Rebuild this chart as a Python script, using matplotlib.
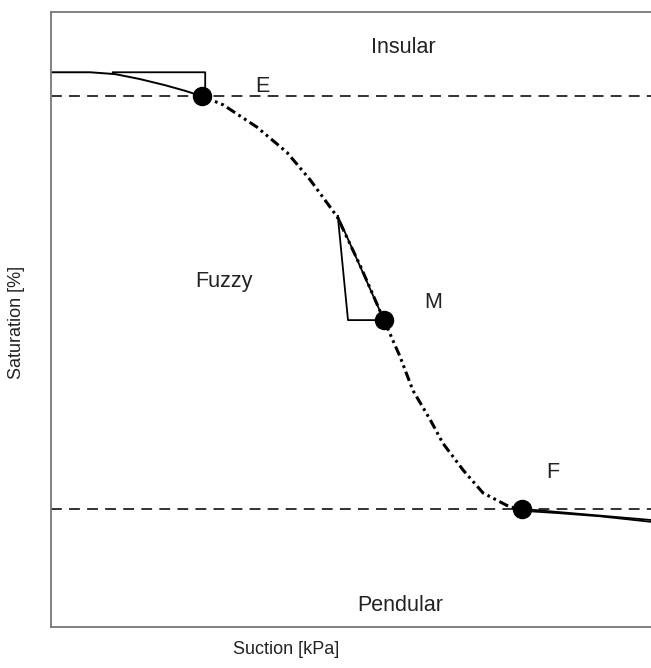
import matplotlib.pyplot as plt

# Retention curve (arbitrary units, 0-100 on both axes)
start_x = [0.0, 6.5, 10.7, 14.8, 19.0, 22.3, 25.2]
start_y = [90.2, 90.2, 89.9, 89.1, 88.1, 87.2, 86.3]

mid_x = [25.2, 28.7, 34.3, 39.3, 43.2, 47.7, 51.7, 55.5, 58.2, 60.3, 63.2,
         65.3, 68.7, 72.0, 76.5, 78.5]
mid_y = [86.3, 84.9, 81.3, 77.2, 72.7, 66.7, 58.4, 49.9, 43.9, 38.5, 33.7,
         29.9, 25.5, 21.8, 19.5, 19.2]

end_x = [78.5, 84.8, 91.5, 100.0]
end_y = [18.9, 18.5, 18.0, 17.1]

# characteristic points
pt_x = [25.2, 55.5, 78.5]
pt_y = [86.3, 49.9, 19.2]

# tangent triangles
tri_e_x = [10.3, 25.7, 25.7]
tri_e_y = [90.2, 90.2, 87.6]
tri_m_x = [47.8, 49.5, 55.5]
tri_m_y = [66.8, 49.9, 49.9]
tan_f_x = [78.5, 100.0]
tan_f_y = [19.2, 17.4]

levels = [86.3, 19.2]

plt.rcParams['font.family'] = ['Liberation Sans', 'DejaVu Sans']
fig = plt.figure(figsize=(6.51, 6.68), dpi=100)
ax = fig.add_axes([51 / 651, 41 / 668, 600 / 651, 615 / 668])

for lv in levels:
    ax.axhline(lv, color='#222222', lw=1.3, dashes=(6, 4))

ax.plot(start_x, start_y, color='black', lw=1.4)
ax.plot(mid_x, mid_y, color='black', lw=2.2, dashes=(3.2, 1.3, 0.9, 1.3, 0.9, 1.3))
ax.plot(end_x, end_y, color='black', lw=1.3)

ax.plot(tri_e_x + [pt_x[0]], tri_e_y + [pt_y[0]], color='black', lw=1.3)
ax.plot(tri_m_x + [tri_m_x[0]], tri_m_y + [tri_m_y[0]], color='black', lw=1.3)
ax.plot(tan_f_x, tan_f_y, color='black', lw=1.3)

ax.plot(pt_x, pt_y, 'o', color='black', ms=13, zorder=5)

txt = dict(fontsize=15.5, ha='center', va='center', color='#222222')
ax.text(35.2, 87.9, "E", **txt)
ax.text(63.7, 52.7, "M", **txt)
ax.text(83.7, 25.2, "F", **txt)
ax.text(58.7, 94.3, "Insular", **txt)
ax.text(28.8, 56.1, "Fuzzy", **txt)
ax.text(58.2, 3.5, "Pendular", **txt)

ax.set_xlim(0, 100)
ax.set_ylim(0, 100)
ax.set_xticks([])
ax.set_yticks([])
ax.spines['right'].set_visible(False)
for s in ['left', 'top', 'bottom']:
    ax.spines[s].set_color('#777777')
    ax.spines[s].set_linewidth(1.3)

fig.text(17 / 651, 1 - 322 / 668, "Saturation [%]", rotation=90, fontsize=13,
         ha='center', va='center', color='#222222')
fig.text(286 / 651, 1 - 650 / 668, "Suction [kPa]", fontsize=13,
         ha='center', va='center', color='#222222')

fig.savefig("out.png", dpi=100)
